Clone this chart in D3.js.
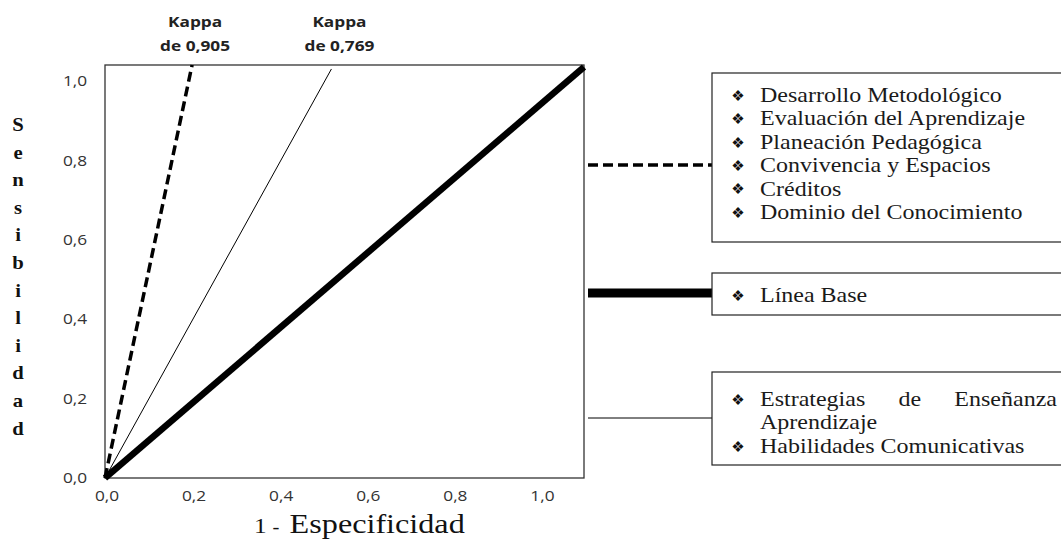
<!DOCTYPE html>
<html>
<head>
<meta charset="utf-8">
<script src="https://cdn.jsdelivr.net/npm/d3@7"></script>
<style>
  body { margin: 0; background: #fff; }
  svg { display: block; }
</style>
</head>
<body>
<svg id="roc_chart" width="1061" height="543"></svg>
<script>
// values
var xTicks = [0, 0.2, 0.4, 0.6, 0.8, 1.0];
var yTicks = [0, 0.2, 0.4, 0.6, 0.8, 1.0];
var kappaLabels = ['0,905', '0,769'];
var kappaX = [0.2, 0.52];      // 1 - especificidad where each kappa line meets the top
var kappaY = [1.04, 1.03];
var baseX = 1.1, baseY = 1.035;
var groupDashed = ['Desarrollo Metodológico', 'Evaluación del Aprendizaje', 'Planeación Pedagógica',
  'Convivencia y Espacios', 'Créditos', 'Dominio del Conocimiento'];
var groupBase = ['Línea Base'];
var groupThin = ['Estrategias de Enseñanza Aprendizaje', 'Habilidades Comunicativas'];
var yTitle = 'Sensibilidad';
var xTitle = 'Especificidad';

function buildRoc() {
  var svg = d3.select('#roc_chart');
  var stretch = 1.15;  // the original figure is a bit wider than tall
  var serif = '"Liberation Serif", "Times New Roman", serif';
  var sans = '"Open Sans", "Liberation Sans", sans-serif';

  var x = d3.scaleLinear().domain([0, 1.1]).range([105, 584]);
  var y = d3.scaleLinear().domain([0, 1.04]).range([478, 65]);

  function place(sel, px, py, s) {
    sel.attr('transform', 'translate(' + [px, py] + ') scale(' + (s || stretch) + ',1)');
  }

  // frame
  svg.append('rect')
    .attr('x', x(0)).attr('y', y(1.04))
    .attr('width', x(1.1) - x(0)).attr('height', y(0) - y(1.04))
    .style('fill', 'none').style('stroke', '#333').style('stroke-width', 1.3);

  // axes: labels only, no tick marks
  var xAxisG = svg.append('g').attr('transform', 'translate(0,' + y(0) + ')')
    .call(d3.axisBottom(x).tickValues(xTicks).tickSize(0).tickPadding(12)
      .tickFormat(d => d3.format('.1f')(d).replace('.', ',')));
  var yAxisG = svg.append('g').attr('transform', 'translate(' + x(0) + ',0)')
    .call(d3.axisLeft(y).tickValues(yTicks).tickSize(0).tickPadding(18)
      .tickFormat(d => d3.format('.1f')(d).replace('.', ',')));
  svg.selectAll('.domain').remove();
  svg.selectAll('.tick text')
    .style('font-family', sans).style('font-size', '15px').style('fill', '#333');
  xAxisG.selectAll('.tick text').attr('transform', 'scale(' + stretch + ',1)').attr('x', 0);
  xAxisG.selectAll('.tick').attr('transform', d => 'translate(' + (x(d) + 2) + ',0)');
  yAxisG.selectAll('.tick text').attr('transform', 'translate(-30,0) scale(' + stretch + ',1)')
    .attr('x', 0).style('text-anchor', 'middle');

  // roc lines
  var line = d3.line().x(d => x(d[0])).y(d => y(d[1]));
  svg.append('path').datum([[0, 0], [baseX, baseY]]).attr('d', line)
    .style('fill', 'none').style('stroke', '#000').style('stroke-width', 6.5);
  svg.append('path').datum([[0, 0], [kappaX[1], kappaY[1]]]).attr('d', line)
    .style('fill', 'none').style('stroke', '#000').style('stroke-width', 1);
  svg.append('path').datum([[0, 0], [kappaX[0], kappaY[0]]]).attr('d', line)
    .style('fill', 'none').style('stroke', '#000').style('stroke-width', 3.5)
    .style('stroke-dasharray', '10,5');

  // kappa labels over the lines
  var kG = svg.selectAll('.kappa').data(kappaLabels).enter().append('g').attr('class', 'kappa');
  kG.each(function(d, i) {
    var g = d3.select(this);
    var cx = x(kappaX[i]) + (i == 0 ? 3 : 8);
    place(g.append('text').text('Kappa'), cx, 27);
    place(g.append('text').text('de ' + d), cx, 51);
  });
  kG.selectAll('text').style('font-family', sans).style('font-weight', 'bold')
    .style('font-size', '15px').style('text-anchor', 'middle').style('fill', '#222');

  // y title, one letter per row
  svg.selectAll('.ytitle').data(yTitle.split('')).enter().append('text')
    .attr('class', 'ytitle').text(d => d)
    .each(function(d, i) { place(d3.select(this), 18, 131 + i * 27.6); })
    .style('font-family', serif).style('font-weight', 'bold').style('font-size', '18px')
    .style('text-anchor', 'middle').style('fill', '#111');

  // x title
  var xt = svg.append('text').style('font-family', serif).style('fill', '#111');
  xt.append('tspan').text('1').style('font-size', '22px');
  xt.append('tspan').text('-').attr('dx', 5).style('font-size', '18px');
  xt.append('tspan').text(xTitle).attr('dx', 9).style('font-size', '28px');
  place(xt, 254, 533);

  // legend boxes on the right
  var legend = [
    { items: groupDashed, top: 73, bottom: 242, lineY: 165, first: 95, width: 3.5, dash: '10,5' },
    { items: groupBase, top: 273, bottom: 315, lineY: 293, first: 295, width: 9, dash: null },
    { items: groupThin, top: 372, bottom: 465, lineY: 418, first: 399, width: 1, dash: null }
  ];
  var boxX = 712, textX = 760, textRight = 1057, rowH = 23.4;
  var tStretch = 1.2, tSize = '20px';

  legend.forEach(function(grp) {
    svg.append('line').attr('x1', x(1.1) + 4).attr('x2', boxX)
      .attr('y1', grp.lineY).attr('y2', grp.lineY)
      .style('stroke', '#000').style('stroke-width', grp.width)
      .style('stroke-dasharray', grp.dash);
    svg.append('rect').attr('x', boxX).attr('y', grp.top)
      .attr('width', 380).attr('height', grp.bottom - grp.top)
      .style('fill', '#fff').style('stroke', '#222').style('stroke-width', 1.2);

    var row = 0;
    grp.items.forEach(function(item) {
      svg.append('text').text('\u2756')
        .attr('transform', 'translate(' + [738, grp.first + row * rowH] + ')')
        .attr('dy', '0.38em')
        .style('font-family', '"DejaVu Sans", sans-serif').style('font-size', '15px')
        .style('text-anchor', 'middle').style('fill', '#111');

      // wrap words, justify every line but the last
      var maxW = (textRight - textX) / tStretch;
      var words = item.split(' ');
      var probe = svg.append('text').style('font-family', serif).style('font-size', tSize);
      function w(s) { probe.text(s); return probe.node().getComputedTextLength(); }
      var lines = [], cur = [];
      words.forEach(function(word) {
        var test = cur.concat([word]).join(' ');
        if (cur.length && w(test) > maxW) { lines.push(cur); cur = [word]; }
        else cur.push(word);
      });
      lines.push(cur);
      lines.forEach(function(lw, li) {
        var ly = grp.first + row * rowH;
        var tG = svg.append('g');
        place(tG, textX, ly, tStretch);
        if (li < lines.length - 1 && lw.length > 1) {
          var total = d3.sum(lw, s => w(s));
          var gap = (maxW - total) / (lw.length - 1);
          var pos = 0;
          lw.forEach(function(s) {
            tG.append('text').attr('x', pos).attr('dy', '0.35em').text(s);
            pos += w(s) + gap;
          });
        } else {
          tG.append('text').attr('dy', '0.35em').text(lw.join(' '));
        }
        tG.selectAll('text').style('font-family', serif).style('font-size', tSize)
          .style('fill', '#1a1a1a');
        row++;
      });
      probe.remove();
    });
  });
}

buildRoc();
</script>
</body>
</html>
